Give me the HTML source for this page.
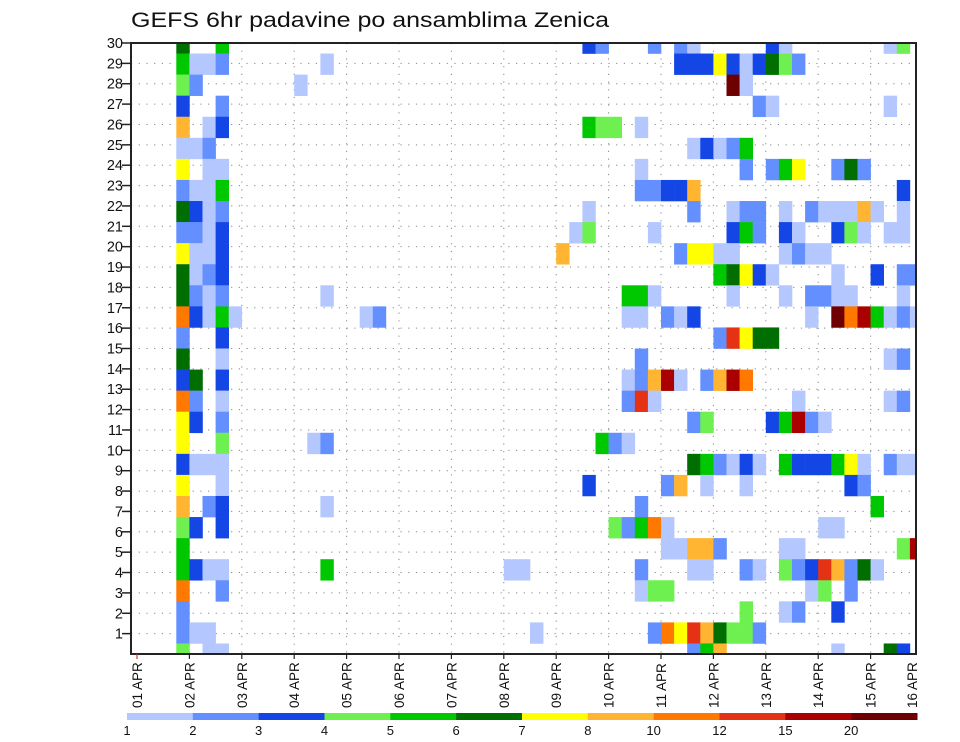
<!DOCTYPE html>
<html><head><meta charset="utf-8"><style>
html,body{margin:0;padding:0;background:#fff}
svg{display:block}
text{font-family:"Liberation Sans",sans-serif;fill:#111}
</style></head><body>
<svg id="chart" width="960" height="742" viewBox="0 0 960 742" xmlns="http://www.w3.org/2000/svg">
<text x="131" y="27" font-size="21" textLength="478" lengthAdjust="spacingAndGlyphs">GEFS 6hr padavine po ansamblima Zenica</text>
<defs><clipPath id="plotclip"><rect x="131" y="43" width="785" height="611"/></clipPath></defs>
<g id="grid"></g>
<g id="cells" clip-path="url(#plotclip)"></g>
<rect x="131" y="43" width="785" height="611" fill="none" stroke="#222" stroke-width="2"/>
<g id="yaxis"></g>
<g id="xaxis"></g>
<g id="legend"></g>
</svg>
<script>
// Category / tick data
const dayLabels = ["01 APR","02 APR","03 APR","04 APR","05 APR","06 APR","07 APR","08 APR","09 APR","10 APR","11 APR","12 APR","13 APR","14 APR","15 APR","16 APR"];
const memberTicks = [1,2,3,4,5,6,7,8,9,10,11,12,13,14,15,16,17,18,19,20,21,22,23,24,25,26,27,28,29,30];
const levelLabels = ["1","2","3","4","5","6","7","8","10","12","15","20"];
const levelColors = ["#b4c8ff","#6490ff","#1446e6","#6ef050","#00c800","#006e00","#ffff00","#ffb432","#ff7800","#e63214","#aa0000","#6e0000"];
// precip value (mm) per class code 1..c
const classValues = {"1":1.5,"2":2.5,"3":3.5,"4":4.5,"5":5.5,"6":6.5,"7":7.5,"8":9,"9":11,"a":13,"b":17,"c":22};
// ensemble rows top to bottom: "column:class" pairs (column = 6-hour step)
const memberRows = [
"3:6 6:5 34:3 35:2 39:2 41:2 42:1 48:3 49:1 57:1 58:4",
"3:5 4:1 5:1 6:2 14:1 41:3 42:3 43:3 44:7 45:3 46:1 47:3 48:6 49:4 50:2",
"3:4 4:2 12:1 45:c 46:1",
"3:3 6:2 47:2 48:1 57:1",
"3:8 5:1 6:3 34:5 35:4 36:4 38:1",
"3:1 4:1 5:2 42:1 43:3 44:1 45:2 46:5",
"3:7 5:1 6:1 38:1 46:2 48:2 49:5 50:7 53:2 54:6 55:2",
"3:2 4:1 5:1 6:5 38:2 39:2 40:3 41:3 42:8 58:3",
"3:6 4:3 5:1 6:2 34:1 42:2 45:1 46:2 47:2 49:1 51:2 52:1 53:1 54:1 55:8 56:1 58:1",
"3:2 4:2 5:1 6:3 33:1 34:4 39:1 45:3 46:5 47:2 49:3 50:1 53:3 54:4 55:1 57:1 58:1",
"3:7 4:1 5:1 6:3 32:8 41:2 42:7 43:7 44:1 45:1 49:1 50:2 51:1 52:1",
"3:6 4:1 5:2 6:3 44:5 45:6 46:7 47:3 48:1 53:1 56:3 58:2 59:2",
"3:6 4:2 5:1 6:2 14:1 37:5 38:5 39:1 45:1 49:1 51:2 52:2 53:1 54:1 58:1",
"3:9 4:3 5:1 6:5 7:1 17:1 18:2 37:1 38:1 40:2 41:1 42:3 51:1 53:c 54:9 55:b 56:5 57:1 58:2 59:1",
"3:2 6:3 44:2 45:a 46:7 47:6 48:6",
"3:6 6:1 38:2 57:1 58:2",
"3:3 4:6 6:3 37:1 38:2 39:8 40:b 41:1 43:2 44:8 45:b 46:9",
"3:9 4:2 6:1 37:2 38:a 39:1 50:1 57:1 58:2",
"3:7 4:3 6:2 42:2 43:4 48:3 49:5 50:b 51:2 52:1",
"3:7 6:4 13:1 14:2 35:5 36:2 37:1",
"3:3 4:1 5:1 6:1 42:6 43:5 44:2 45:1 46:3 47:1 49:5 50:3 51:3 52:3 53:5 54:7 55:1 57:2 58:1 59:1",
"3:7 6:1 34:3 40:2 41:8 43:1 46:1 54:3 55:2",
"3:8 5:2 6:3 14:1 38:2 56:5",
"3:4 4:3 6:3 36:4 37:2 38:5 39:9 40:1 52:1 53:1",
"3:5 40:1 41:1 42:8 43:8 44:2 49:1 50:1 58:4 59:b",
"3:5 4:3 5:1 6:1 14:5 28:1 29:1 38:2 42:1 43:1 46:2 47:1 49:4 50:2 51:3 52:a 53:8 54:2 55:6 56:1",
"3:9 6:2 38:1 39:4 40:4 51:1 52:4 54:2",
"3:2 46:4 49:1 50:2 53:3",
"3:2 4:1 5:1 30:1 39:2 40:9 41:7 42:a 43:8 44:6 45:4 46:4 47:2",
"3:4 5:1 6:1 42:2 43:5 44:8 53:1 57:6 58:3"
];
const levelThresholds = [1,2,3,4,5,6,7,8,10,12,15,20];

const NS="http://www.w3.org/2000/svg";
const plotL=131, plotR=916, plotT=43, plotB=654;
const x0=137, stepW=13.1, dayW=52.4;
const rowH=(plotB-plotT)/(memberRows.length-1);
const tickH=(plotB-plotT)/30;
function xCol(c){return x0+c*stepW;}
function xDay(d){return x0+d*dayW;}
function yRow(i){return plotT+i*rowH;}
function yTick(v){return plotB-v*tickH;}
function colorFor(v){let k=-1;for(let j=0;j<levelThresholds.length;j++){if(v>=levelThresholds[j])k=j;}return k<0?null:levelColors[k];}
function mk(tag,attrs,parent){const e=document.createElementNS(NS,tag);for(const k in attrs)e.setAttribute(k,attrs[k]);parent.appendChild(e);return e;}

const grid=document.getElementById('grid');
for(const v of memberTicks){
  if(v>=30) continue;
  const l=mk('line',{x1:plotL,x2:plotR,y1:yTick(v),y2:yTick(v),stroke:'#888','stroke-width':1,'stroke-dasharray':'1.2 6.5'},grid);
  
  
}
for(let d=1;d<dayLabels.length-1;d++){
  const l=mk('line',{x1:xDay(d),x2:xDay(d),y1:plotT,y2:plotB,stroke:'#888','stroke-width':1,'stroke-dasharray':'1.2 6.5'},grid);
  
  
}

const cells=document.getElementById('cells');
memberRows.forEach((row,i)=>{
  row.trim().split(/\s+/).forEach(p=>{
    const [c,code]=p.split(':');
    const v=classValues[code];
    const col=colorFor(v); if(!col) return;
    const r=mk('rect',{x:xCol(+c),y:yRow(i)-rowH/2,width:stepW+0.3,height:rowH+0.3,fill:col},cells);
    
    
  });
});

const yax=document.getElementById('yaxis');
for(const v of memberTicks){
  const y=yTick(v);
  const t=mk('line',{x1:plotL-9,x2:plotL,y1:y,y2:y,stroke:'#222','stroke-width':1.5},yax);
  
  
  const tx=mk('text',{x:plotL-8,y:y+5,'font-size':14.5,'text-anchor':'end'},yax);
  tx.textContent=v;
  
  
}

const xax=document.getElementById('xaxis');
dayLabels.forEach((lab,d)=>{
  const x=xDay(d);
  if(x<=plotR){
    const t=mk('line',{x1:x,x2:x,y1:plotB,y2:plotB+5,stroke:d===0?'#c33':'#222','stroke-width':1.2},xax);
    
    
  }
  const lx=Math.min(x,912)+5;
  const tx=mk('text',{x:0,y:0,'font-size':13.5,transform:`translate(${lx},708) rotate(-90)`},xax);
  tx.textContent=lab;
  
  
});

const leg=document.getElementById('legend');
const legL=127, legR=917, legW=(legR-legL)/levelColors.length;
levelColors.forEach((c,k)=>{
  const r=mk('rect',{x:legL+k*legW,y:713,width:legW+0.5,height:7,fill:c},leg);
  
  
});
levelLabels.forEach((lab,k)=>{
  const tx=mk('text',{x:legL+k*legW,y:735,'font-size':13,'text-anchor':'middle'},leg);
  tx.textContent=lab;
  
  
});
</script>
</body></html>
